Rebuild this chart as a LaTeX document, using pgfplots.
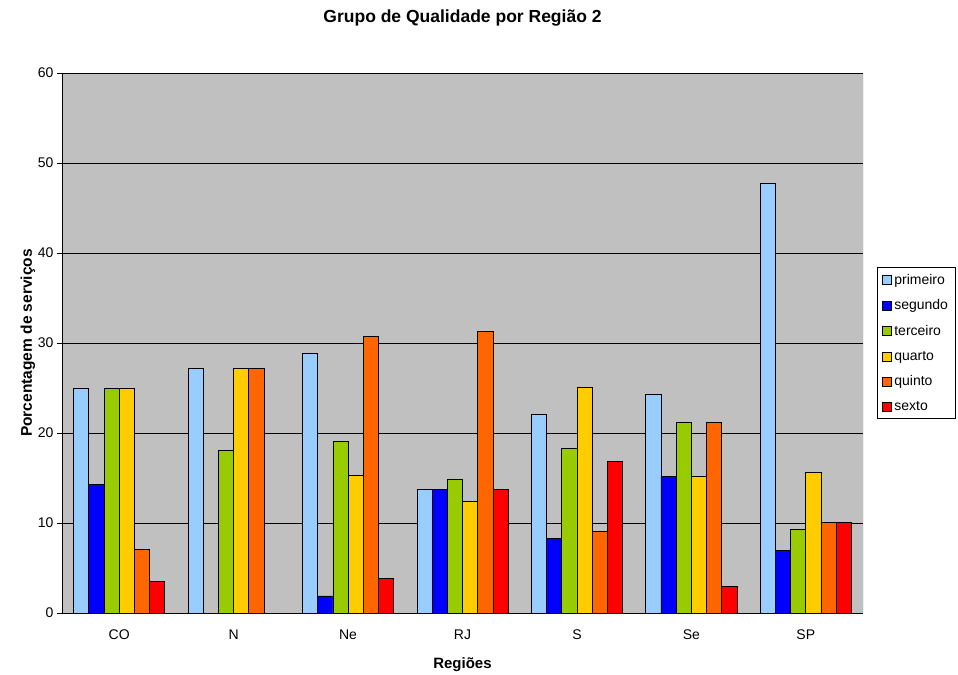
\documentclass[border=0pt]{standalone}
\usepackage{pgfplots}
\pgfplotsset{compat=1.18}
\usepackage{fontspec}
\setmainfont{Liberation Sans}

\definecolor{cPrim}{HTML}{99CCFF}
\definecolor{cSeg}{HTML}{0000FF}
\definecolor{cTer}{HTML}{99CC00}
\definecolor{cQua}{HTML}{FFCC00}
\definecolor{cQui}{HTML}{FF6600}
\definecolor{cSex}{HTML}{FF0000}
\definecolor{plotbg}{HTML}{C0C0C0}
\definecolor{frame}{HTML}{808080}

% regions: 0=CO 1=N 2=Ne 3=RJ 4=S 5=Se 6=SP
\pgfplotstableread{
x prim seg ter qua qui sex
0 25.0 14.3 25.0 25.0  7.1  3.5
1 27.2  0.0 18.1 27.2 27.2  0.0
2 28.8  1.9 19.1 15.3 30.7  3.8
3 13.7 13.7 14.9 12.4 31.3 13.7
4 22.1  8.3 18.3 25.1  9.1 16.8
5 24.3 15.2 21.2 15.2 21.2  3.0
6 47.7  7.0  9.3 15.6 10.1 10.1
}\regioes

\begin{document}
\begin{tikzpicture}
\begin{axis}[
  scale only axis,
  width=801pt, height=540pt,
  ybar=0pt, bar width=15.2pt,
  xmin=-0.5, xmax=6.5,
  ymin=0, ymax=60,
  ytick={0,10,...,60},
  xtick={0,...,6},
  xticklabels={CO,N,Ne,RJ,S,Se,SP},
  major x tick style={draw=none},
  extra x ticks={-0.5,0.5,...,6.5},
  extra x tick labels={},
  extra x tick style={major tick length=5pt, tick style={draw=black}, grid=none, tick align=outside},
  tick align=outside,
  major tick length=5pt,
  ymajorgrids,
  major grid style={black, line width=0.6pt},
  axis background/.style={fill=plotbg},
  axis line style={black},
  axis x line*=bottom,
  axis y line*=left,
  tick style={black},
  /pgf/number format/assume math mode=true,
  tick label style={font=\fontsize{14}{16}\selectfont},
  xticklabel style={anchor=base, yshift=-21pt},
  title={\textbf{Grupo de Qualidade por Região 2}},
  title style={font=\fontsize{17.5}{20}\selectfont, at={(0.5,1)}, yshift=44pt, anchor=base},
  xlabel={\textbf{Regiões}},
  ylabel={\textbf{Porcentagem de serviços}},
  xlabel style={font=\fontsize{15}{17}\selectfont, at={(axis description cs:0.5,0)}, anchor=base, yshift=-55pt},
  ylabel style={font=\fontsize{15.5}{17}\selectfont, at={(axis description cs:0,0.5)}, anchor=base, yshift=30pt},
  legend style={at={(1.0175,0.5)}, anchor=west, draw=black, fill=white,
    font=\fontsize{14}{16}\selectfont, row sep=9pt, inner xsep=5pt, inner ysep=4pt,
    nodes={inner sep=2.5pt}},
  legend cell align=left,
  legend image code/.code={\draw[#1, draw=black, line width=0.6pt] (0pt,-4.5pt) rectangle (9pt,4.5pt);},
  every axis plot/.append style={draw=black, line width=0.7pt},
]
\addplot[fill=cPrim] table[x=x,y=prim]{\regioes};
\addplot[fill=cSeg] table[x=x,y=seg]{\regioes};
\addplot[fill=cTer] table[x=x,y=ter]{\regioes};
\addplot[fill=cQua] table[x=x,y=qua]{\regioes};
\addplot[fill=cQui] table[x=x,y=qui]{\regioes};
\addplot[fill=cSex] table[x=x,y=sex]{\regioes};
\legend{primeiro,segundo,terceiro,quarto,quinto,sexto}
% right edge of the plot area
\draw[frame, line width=0.8pt] (rel axis cs:1,0) -- (rel axis cs:1,1);
\end{axis}
\path ([shift={(-62pt,-60pt)}]current axis.south west) rectangle ([shift={(95pt,73pt)}]current axis.north east);
\end{tikzpicture}
\end{document}
